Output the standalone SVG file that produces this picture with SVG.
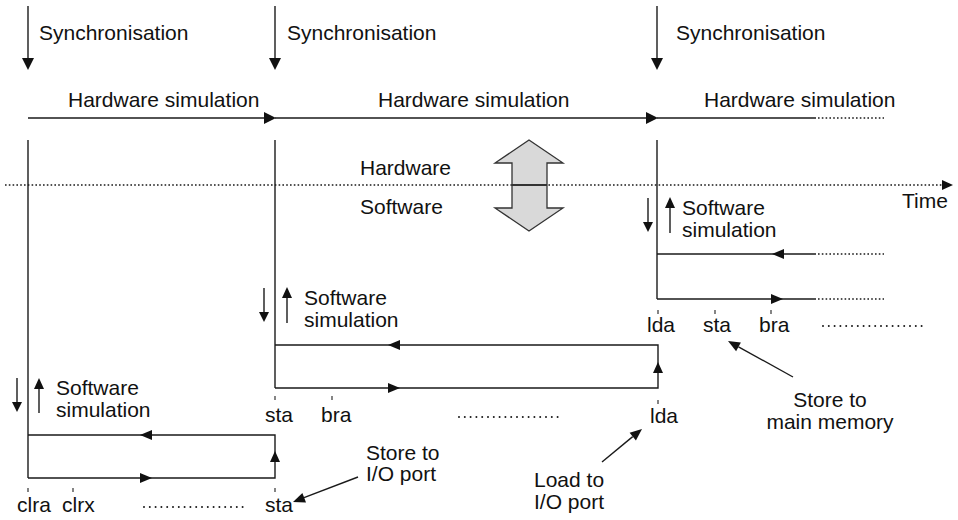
<svg xmlns="http://www.w3.org/2000/svg" width="958" height="520" viewBox="0 0 958 520">
<style>
text{font-family:"Liberation Sans",Arial,Helvetica,sans-serif;font-size:21px;fill:#111}
.ln{stroke:#1a1a1a;stroke-width:1.4;fill:none}
.dot{stroke:#1a1a1a;stroke-width:1.6;fill:none;stroke-dasharray:1.6 2.2}
.ldots{stroke:#1a1a1a;stroke-width:2;fill:none;stroke-dasharray:0 5.8;stroke-linecap:round}
.tk{stroke:#333;stroke-width:1.2}
.ah{fill:#111;stroke:none}
.big{fill:#d9d9d9;stroke:#333;stroke-width:1.3}
</style>
<rect width="958" height="520" fill="#fff"/>
<g id="connectors">
  <!-- time axis -->
  <line class="dot" x1="5" y1="185" x2="943" y2="185"/>
  <polygon class="ah" points="942,180 942,190 953,185"/>
  <!-- synchronisation arrows -->
  <line class="ln" x1="28" y1="6" x2="28" y2="60"/>
  <polygon class="ah" points="22,58 34,58 28,70"/>
  <line class="ln" x1="275" y1="6" x2="275" y2="60"/>
  <polygon class="ah" points="269,58 281,58 275,70"/>
  <line class="ln" x1="657" y1="6" x2="657" y2="60"/>
  <polygon class="ah" points="651,58 663,58 657,70"/>
  <!-- hardware simulation line -->
  <line class="ln" x1="28" y1="118" x2="265" y2="118"/>
  <polygon class="ah" points="264,112 264,124 276,118"/>
  <line class="ln" x1="275" y1="118" x2="647" y2="118"/>
  <polygon class="ah" points="646,112 646,124 658,118"/>
  <line class="ln" x1="657" y1="118" x2="816" y2="118"/>
  <line class="dot" x1="818" y1="118" x2="884" y2="118"/>
  <!-- vertical timelines -->
  <line class="ln" x1="28" y1="140" x2="28" y2="478"/>
  <line class="ln" x1="275" y1="140" x2="275" y2="388"/>
  <line class="ln" x1="657" y1="140" x2="657" y2="299"/>
  <!-- callout arrows -->
  <line class="ln" x1="358" y1="477" x2="304" y2="497.7"/>
  <polygon class="ah" points="293,502 306,502.4 302.4,493"/>
  <line class="ln" x1="602" y1="462" x2="632.7" y2="436.6"/>
  <polygon class="ah" points="642,429 635.9,440.5 629.6,432.8"/>
  <line class="ln" x1="793" y1="377" x2="738.5" y2="346.8"/>
  <polygon class="ah" points="728,341 740.9,342.4 736.1,351.2"/>
</g>
<g id="swap-arrow">
  <polygon class="big" points="529,140 563,163 547,163 547,208 563,208 529,231 495,208 512,208 512,163 495,163"/>
  <line x1="512" y1="185" x2="547" y2="185" stroke="#333" stroke-width="1.8"/>
</g>
<g id="labels-top">
  <text x="39" y="40">Synchronisation</text>
  <text x="287" y="40">Synchronisation</text>
  <text x="676" y="40">Synchronisation</text>
  <text x="68" y="107">Hardware simulation</text>
  <text x="378" y="107">Hardware simulation</text>
  <text x="704" y="107">Hardware simulation</text>
  <text x="360" y="175">Hardware</text>
  <text x="360" y="214">Software</text>
  <text x="902" y="208">Time</text>
</g>
<g id="block-right">
  <line class="ln" x1="648" y1="198" x2="648" y2="224"/>
  <polygon class="ah" points="643,222 653,222 648,232"/>
  <line class="ln" x1="670" y1="233" x2="670" y2="207"/>
  <polygon class="ah" points="665,208 675,208 670,197"/>
  <text x="682" y="215">Software</text>
  <text x="682" y="237">simulation</text>
  <line class="ln" x1="657" y1="254" x2="816" y2="254"/>
  <line class="dot" x1="818" y1="254" x2="884" y2="254"/>
  <polygon class="ah" points="784,249 784,259 772,254"/>
  <line class="ln" x1="657" y1="299" x2="816" y2="299"/>
  <line class="dot" x1="818" y1="299" x2="884" y2="299"/>
  <polygon class="ah" points="771,294 771,304 783,299"/>
  <line class="tk" x1="658" y1="310" x2="658" y2="314"/>
  <line class="tk" x1="715" y1="310" x2="715" y2="314"/>
  <line class="tk" x1="771" y1="310" x2="771" y2="314"/>
  <text x="647" y="332">lda</text>
  <text x="703" y="332">sta</text>
  <text x="759" y="332">bra</text>
  <line class="ldots" x1="823" y1="326" x2="925" y2="326"/>
  <text x="830" y="407" text-anchor="middle">Store to</text>
  <text x="830" y="429" text-anchor="middle">main memory</text>
</g>
<g id="block-middle">
  <line class="ln" x1="264" y1="288" x2="264" y2="314"/>
  <polygon class="ah" points="259,312 269,312 264,322"/>
  <line class="ln" x1="287" y1="323" x2="287" y2="297"/>
  <polygon class="ah" points="282,298 292,298 287,287"/>
  <text x="304" y="305">Software</text>
  <text x="304" y="327">simulation</text>
  <path class="ln" d="M275,345 H658 V388 H275"/>
  <polygon class="ah" points="400,340 400,350 388,345"/>
  <polygon class="ah" points="388,383 388,393 400,388"/>
  <polygon class="ah" points="653,373 663,373 658,362"/>
  <line class="tk" x1="275" y1="396" x2="275" y2="400"/>
  <line class="tk" x1="332" y1="396" x2="332" y2="400"/>
  <line class="tk" x1="658" y1="400" x2="658" y2="404"/>
  <text x="265" y="422">sta</text>
  <text x="321" y="422">bra</text>
  <line class="ldots" x1="459" y1="417" x2="562" y2="417"/>
  <text x="650" y="423">lda</text>
  <text x="534" y="487">Load to</text>
  <text x="534" y="509">I/O port</text>
</g>
<g id="block-left">
  <line class="ln" x1="17" y1="378" x2="17" y2="404"/>
  <polygon class="ah" points="12,402 22,402 17,412"/>
  <line class="ln" x1="39" y1="413" x2="39" y2="388"/>
  <polygon class="ah" points="34,389 44,389 39,378"/>
  <text x="56" y="395">Software</text>
  <text x="56" y="417">simulation</text>
  <path class="ln" d="M28,435 H275 V478 H28"/>
  <polygon class="ah" points="152,430 152,440 140,435"/>
  <polygon class="ah" points="140,473 140,483 152,478"/>
  <polygon class="ah" points="270,462 280,462 275,451"/>
  <line class="tk" x1="28" y1="488" x2="28" y2="492"/>
  <line class="tk" x1="73" y1="488" x2="73" y2="492"/>
  <line class="tk" x1="275" y1="488" x2="275" y2="492"/>
  <text x="17" y="512">clra</text>
  <text x="62" y="512">clrx</text>
  <line class="ldots" x1="144" y1="507" x2="246" y2="507"/>
  <text x="265" y="512">sta</text>
  <text x="366" y="460">Store to</text>
  <text x="366" y="481">I/O port</text>
</g>
</svg>
